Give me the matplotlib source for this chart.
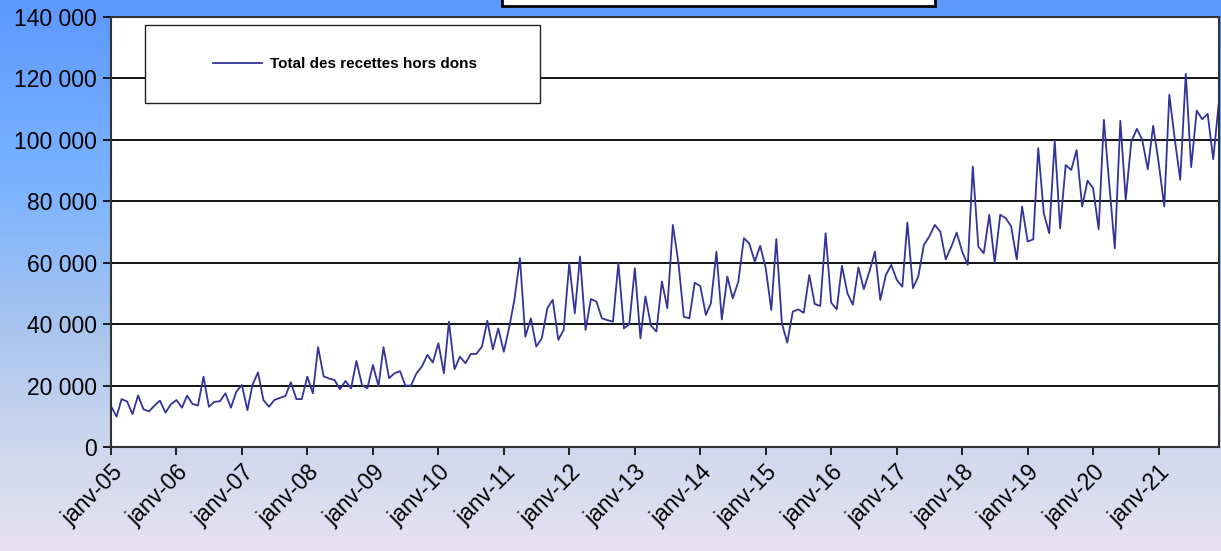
import numpy as np
import pandas as pd
import matplotlib
matplotlib.use('Agg')
import matplotlib.pyplot as plt
from matplotlib.colors import LinearSegmentedColormap
from matplotlib.patches import Rectangle
from matplotlib.ticker import FuncFormatter

# =============================================================================
# Data: monthly total receipts (excluding donations), Jan 2005 - Dec 2021
# =============================================================================
months = pd.date_range('2005-01-01', periods=204, freq='MS')

recettes_2005_2009 = [
    13300, 9900, 15600, 14800, 10700, 16800, 12300, 11600, 13500, 15100, 11200, 13900,
    15300, 12800, 16700, 14000, 13500, 22900, 13100, 14700, 14900, 17500, 12800, 18000,
    20200, 12000, 20200, 24300, 15300, 13100, 15300, 16000, 16600, 21100, 15600, 15600,
    22900, 17500, 32500, 23000, 22300, 21800, 18800, 21500, 19100, 28000, 20200, 19100,
    26700, 19800, 32500, 22400, 24000, 24700, 20000, 20000, 24000, 26200, 30000, 27500,
]
recettes_2010_2014 = [
    33800, 24000, 40800, 25300, 29400, 27300, 30300, 30300, 32700, 41100, 31800, 38600,
    31000, 39200, 47900, 61500, 35900, 41900, 32700, 35400, 45200, 47900, 34900, 38100,
    59800, 43500, 62000, 38100, 48200, 47300, 41900, 41300, 40800, 59800, 38600, 40000,
    58200, 35400, 49000, 39500, 37600, 53900, 45200, 72300, 60000, 42400, 41900, 53500,
    52400, 43000, 46800, 63600, 41500, 55500, 48400, 53800, 68000, 66300, 60400, 65500,
]
recettes_2015_2019 = [
    58200, 44600, 67700, 40300, 34000, 44100, 44800, 43700, 56000, 46600, 45900, 69600,
    47000, 44800, 59000, 50000, 46300, 58500, 51400, 57100, 63600, 47900, 56000, 59300,
    54400, 52200, 73100, 51700, 55500, 65800, 68500, 72300, 70100, 61100, 65200, 69800,
    63600, 59300, 91300, 65200, 63100, 75600, 60000, 75600, 74500, 71800, 61100, 78300,
    66900, 67600, 97300, 76100, 69600, 99700, 71200, 91800, 90200, 96700, 78300, 86700,
]
recettes_2020_2021 = [
    84300, 70900, 106500, 85000, 64700, 106200, 80500, 99400, 103600, 100000, 90400, 104600,
    92400, 78300, 114700, 100000, 87000, 121500, 91100, 109500, 106700, 108500, 93700, 111400,
]
recettes = recettes_2005_2009 + recettes_2010_2014 + recettes_2015_2019 + recettes_2020_2021

series_label = 'Total des recettes hors dons'
y_ticks = [0, 20000, 40000, 60000, 80000, 100000, 120000, 140000]
x_ticks = pd.date_range('2005-01-01', '2021-01-01', freq='YS')
x_tick_labels = ['janv-%02d' % (d.year % 100) for d in x_ticks]

# =============================================================================
# Figure
# =============================================================================
plt.rcParams['font.family'] = ['Liberation Sans', 'DejaVu Sans']

W, H = 1221, 551
fig = plt.figure(figsize=(W / 100, H / 100), dpi=100)

# background gradient (blue at top, lavender at bottom)
bg = fig.add_axes([0, 0, 1, 1], zorder=-10)
cmap = LinearSegmentedColormap.from_list('bg', [
    (0.00, '#5C99FF'),
    (0.35, '#7DB4FF'),
    (0.60, '#A9C5EE'),
    (0.82, '#CFD8EE'),
    (1.00, '#E8E1F3'),
])
grad = np.linspace(0, 1, 256).reshape(-1, 1)
bg.imshow(grad, aspect='auto', cmap=cmap, extent=[0, 1, 0, 1], origin='upper')
bg.set_axis_off()

# title box, clipped by the top edge of the picture
fig.patches.append(Rectangle((502 / W, 1 - 6 / H), (935 - 502) / W, 20 / H,
                             transform=fig.transFigure, facecolor='white',
                             edgecolor='black', linewidth=2, zorder=5))

ax_left, ax_right, ax_top, ax_bottom = 111, 1218.6, 17, 447
ax = fig.add_axes([ax_left / W, 1 - ax_bottom / H,
                   (ax_right - ax_left) / W, (ax_bottom - ax_top) / H])
ax.set_facecolor('white')

ax.plot(months, recettes, color='#333399', linewidth=1.3, label=series_label)

ax.set_xlim(months[0], months[-1])
ax.set_ylim(0, 140000)
ax.set_yticks(y_ticks)
ax.yaxis.set_major_formatter(FuncFormatter(lambda v, p: f'{int(v):,}'.replace(',', ' ')))
ax.set_xticks(x_ticks)
ax.set_xticklabels(x_tick_labels, rotation=45, ha='right', rotation_mode='anchor')

ax.grid(axis='y', color='black', linewidth=1.3)
ax.set_axisbelow(True)
ax.tick_params(axis='both', direction='out', length=6, width=1.2, colors='black',
               labelsize=16.5)
ax.tick_params(axis='x', pad=4)
ax.tick_params(axis='y', pad=4)
for side in ['left', 'bottom', 'right', 'top']:
    ax.spines[side].set_color('#333333')
    ax.spines[side].set_linewidth(1.5)


def px_to_ax(x, y):
    # pixel position in the picture -> axes fraction
    return ((x - ax_left) / (ax_right - ax_left), (ax_bottom - y) / (ax_bottom - ax_top))


# legend: white box drawn by hand, legend entry placed inside without frame
bx0, by0 = px_to_ax(145, 103)
bx1, by1 = px_to_ax(540, 25)
ax.add_patch(Rectangle((bx0, by0), bx1 - bx0, by1 - by0, transform=ax.transAxes,
                       facecolor='white', edgecolor='#222222', linewidth=1.0, zorder=4))
lx, ly = px_to_ax(213, 64)
leg = ax.legend(loc='center left', bbox_to_anchor=(lx, ly), frameon=False,
                fontsize=11, handlelength=3.2, handletextpad=0.5,
                borderpad=0, borderaxespad=0)
leg.set_zorder(5)
for t in leg.get_texts():
    t.set_fontweight('bold')

fig.savefig('out.png', dpi=100)
plt.close(fig)
